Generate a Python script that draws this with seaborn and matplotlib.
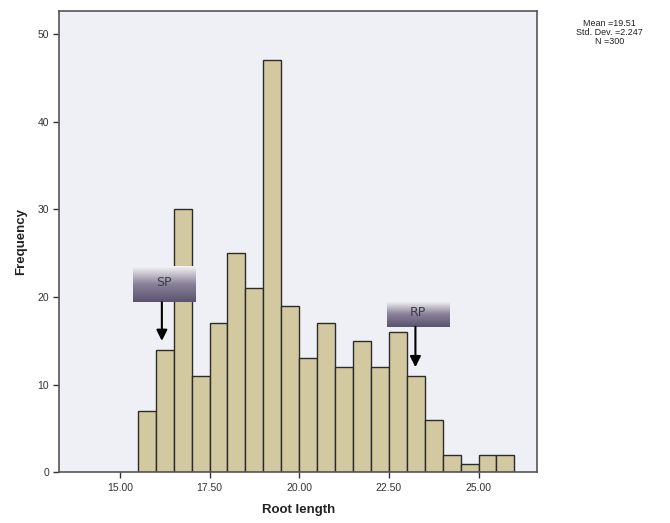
import numpy as np
import pandas as pd
import matplotlib
matplotlib.use('Agg')
import matplotlib.pyplot as plt
from matplotlib.colors import LinearSegmentedColormap
import seaborn as sns

# %%
# histogram bins (width 0.5, from 15.5 to 26.0)
bin_edges = [15.5 + 0.5 * i for i in range(22)]
counts = [7, 14, 30, 11, 17, 25, 21, 47, 19, 13, 17, 12, 15, 12, 16, 11, 6, 2, 1, 2, 2]
x_ticks = [15.0, 17.5, 20.0, 22.5, 25.0]
y_ticks = [0, 10, 20, 30, 40, 50]
stats_text = 'Mean =19.51\nStd. Dev. =2.247\nN =300'

# markers: label, arrow x, arrow start y, arrow end y, box (x0, x1, y0, y1)
markers = [
    ('SP', 16.17, 19.4, 15.0, (15.36, 17.11, 19.4, 23.5)),
    ('RP', 23.24, 16.6, 12.0, (22.44, 24.19, 16.6, 19.5)),
]

# %%
df = pd.DataFrame({
    'root_length': [(a + b) / 2 for a, b in zip(bin_edges[:-1], bin_edges[1:])],
    'count': counts,
})

sns.set_style('ticks')
plt.rcParams['font.family'] = ['Liberation Sans', 'DejaVu Sans']

fig = plt.figure(figsize=(6.7, 5.23), dpi=100)
ax = fig.add_axes([0.0885, 0.0966, 0.713, 0.8824])
ax.set_facecolor('#eef0f5')

sns.histplot(data=df, x='root_length', weights='count', bins=bin_edges,
             color='#d3c9a1', edgecolor='#2b2b2b', linewidth=1.0, alpha=1.0, ax=ax)

ax.set_xticks(x_ticks)
ax.set_xticklabels([f'{t:.2f}' for t in x_ticks])
ax.set_yticks(y_ticks)
ax.tick_params(axis='both', labelsize=7.5, colors='#333333', length=4, width=1)
ax.set_xlabel('Root length', fontsize=9.5, fontweight='bold', color='#222222', labelpad=8)
ax.set_ylabel('Frequency', fontsize=9.5, fontweight='bold', color='#222222', labelpad=7)
for s in ax.spines.values():
    s.set_color('#555555')
    s.set_linewidth(1.2)

# gradient label boxes with arrows
cmap = LinearSegmentedColormap.from_list('box', ['#5c5370', '#8a8298', '#f4f4f6'])
grad = np.linspace(0, 1, 64).reshape(-1, 1)
for label, ax_x, y_start, y_end, (x0, x1, y0, y1) in markers:
    ax.imshow(grad, cmap=cmap, extent=(x0, x1, y0, y1), origin='lower',
              aspect='auto', zorder=5)
    ax.text((x0 + x1) / 2, y0 + (y1 - y0) * 0.55, label, ha='center', va='center',
            fontsize=9, color='#3c3c4a', zorder=6, family=['DejaVu Sans'])
    ax.annotate('', xy=(ax_x, y_end), xytext=(ax_x, y_start),
                arrowprops=dict(arrowstyle='-|>', color='black', lw=1.5,
                                mutation_scale=16, shrinkA=0, shrinkB=0), zorder=6)
ax.set_xlim(13.31, 26.63)
ax.set_ylim(0, 52.6)

fig.text(0.91, 0.938, stats_text, ha='center', va='center', fontsize=6.5,
         color='#222222', linespacing=0.95)

fig.savefig('out.png', dpi=100, facecolor='white')
